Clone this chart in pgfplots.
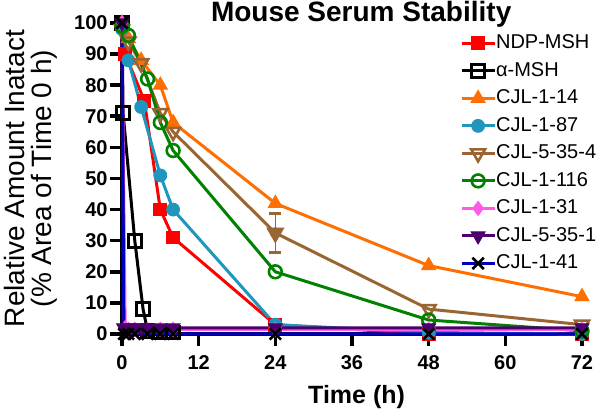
\documentclass[border=0pt]{standalone}
\usepackage{fontspec}
\setmainfont{Liberation Sans}
\usepackage{pgfplots}
\pgfplotsset{compat=1.18}
\definecolor{cred}{RGB}{255,0,0}
\definecolor{corange}{RGB}{255,110,0}
\definecolor{ccyan}{RGB}{30,150,190}
\definecolor{cbrown}{RGB}{153,102,51}
\definecolor{cgreen}{RGB}{0,130,0}
\definecolor{cpink}{RGB}{255,90,230}
\definecolor{cpurple}{RGB}{75,0,110}
\definecolor{cblue}{RGB}{0,0,190}
\begin{document}
\begin{tikzpicture}
\useasboundingbox (0pt,0pt) rectangle (300pt,205.5pt);
\begin{axis}[
  at={(61pt,38.5pt)}, anchor=south west,
  scale only axis, width=230pt, height=155.5pt,
  xmin=0, xmax=72, ymin=0, ymax=100, clip=false,
  axis lines=left,
  axis line style={line width=1.8pt, -},
  xtick={0,12,24,36,48,60,72},
  ytick={0,10,...,100},
  tick align=outside,
  major tick length=6pt,
  tick style={line width=1.8pt, black},
  /pgf/number format/assume math mode=true,
  tick label style={font=\bfseries\fontsize{10}{12}\selectfont},
  yticklabel style={inner sep=1pt},
  xticklabel style={yshift=-1pt},
  title={Mouse Serum Stability},
  every axis title/.style={font=\bfseries\fontsize{14}{16}\selectfont, at={(0.52,1)}, anchor=base, yshift=0.8pt, inner sep=0pt},
  xlabel={Time (h)},
  xlabel style={font=\bfseries\fontsize{12.5}{14}\selectfont, at={(axis description cs:0.51,0)}, anchor=base, yshift=-34.7pt, inner sep=0pt},
  ylabel={Relative Amount Inatact\\(\% Area of Time 0 h)},
  ylabel style={font=\fontsize{14}{13.8}\selectfont, align=center, at={(axis description cs:-0.139,0.5)}, anchor=south, inner sep=0pt},
  legend style={at={(0.735,0.965)}, anchor=north west, draw=none, fill=none, inner sep=0pt, outer sep=0pt,
    font=\fontsize{10}{12}\selectfont,
    nodes={inner sep=0pt, text height=7.5pt, text depth=2pt},
    /tikz/every even column/.append style={column sep=2.5pt},
    row sep=4.25pt},
  legend cell align=left,
  legend image code/.code={\draw[mark repeat=2,mark phase=2] plot coordinates {(0pt,0pt) (8.25pt,0pt) (16.5pt,0pt)};},
  every axis plot/.append style={line width=1.5pt},
]
\addplot[color=cred, mark=square*, mark size=3.2pt, mark options={solid, fill=cred, line width=0.5pt}]
  coordinates {(0,100) (0.5,90) (3.5,75) (6,40) (8,31) (24,3) (48,0) (72,0)};
\addlegendentry{NDP-MSH}
\addplot[color=black, mark=square, mark size=3.2pt, mark options={solid, fill=white, line width=1.5pt}]
  coordinates {(0,100) (0.17,71) (2,30) (3.3,8) (4,1) (6,0.5) (8,0.5)};
\addlegendentry{α-MSH}
\addplot[color=corange, mark=triangle*, mark size=4pt, mark options={solid, fill=corange, line width=0.5pt}]
  coordinates {(0,100) (1,95) (3,88) (6,80) (8,68) (24,42) (48,22) (72,12)};
\addlegendentry{CJL-1-14}
\addplot[color=ccyan, mark=*, mark size=3.2pt, mark options={solid, fill=ccyan, line width=0.5pt}]
  coordinates {(0,98) (1,88) (3,73) (6,51) (8,40) (24,3) (48,0.5) (72,0)};
\addlegendentry{CJL-1-87}
\addplot[color=cbrown, mark=triangle, mark size=4pt, mark options={solid, fill=white, rotate=180, line width=1.3pt}]
  coordinates {(0,98) (1,94) (3,87) (6,71) (8,65) (24,32.5) (48,8) (72,3)};
\addlegendentry{CJL-5-35-4}
\addplot[forget plot, color=cbrown, line width=1.5pt, only marks, mark=none,
  error bars/.cd, y dir=both, y explicit, error mark options={rotate=90, mark size=3pt, line width=1.5pt, cbrown}]
  coordinates {(24,32.5) +- (0,6.2)};
\addplot[color=cgreen, mark=o, mark size=3.2pt, mark options={solid, fill=white, line width=1.3pt}]
  coordinates {(0,99) (1,96) (4,82) (6,68) (8,59) (24,20) (48,4.5) (72,1)};
\addlegendentry{CJL-1-116}
\addplot[color=cpink, mark=diamond*, mark size=3.5pt, mark options={solid, fill=cpink, line width=0.5pt}]
  coordinates {(0,100) (0.5,2) (1,1.5) (2,1.5) (4,1.5) (6,1.5) (8,1.5) (24,1.5) (48,1.5) (72,1.5)};
\addlegendentry{CJL-1-31}
\addplot[color=cpurple, mark=triangle*, mark size=4pt, mark options={solid, fill=cpurple, rotate=180, line width=0.5pt}]
  coordinates {(0,100) (0.25,2) (1,2) (2,2) (3,2) (4,2) (6,2) (8,2) (24,2) (48,2) (72,2)};
\addlegendentry{CJL-5-35-1}
\addplot[color=cblue, mark=x, mark size=4pt, mark options={solid, draw=black, line width=1.3pt}]
  coordinates {(0,100) (0.3,0) (1,0) (2,0) (4,0) (6,0) (8,0) (24,0) (48,0) (72,0)};
\addlegendentry{CJL-1-41}
\end{axis}
\end{tikzpicture}
\end{document}
